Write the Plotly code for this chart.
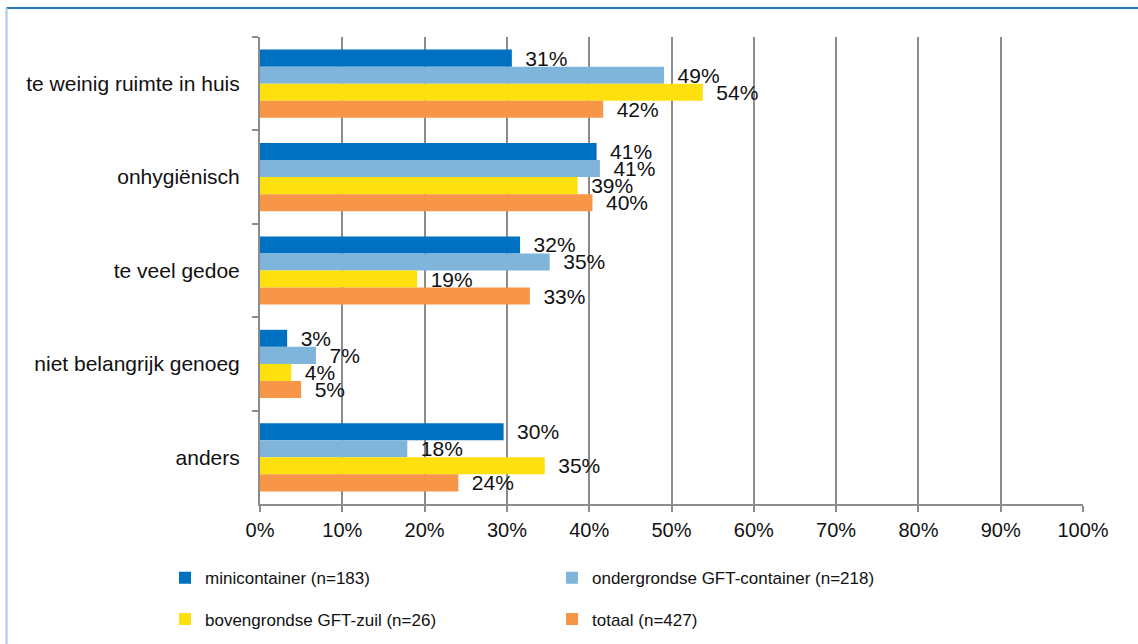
import plotly.graph_objects as go

categories = ["te weinig ruimte in huis", "onhygiënisch", "te veel gedoe",
              "niet belangrijk genoeg", "anders"]
series_names = ["minicontainer (n=183)", "ondergrondse GFT-container (n=218)",
                "bovengrondse GFT-zuil (n=26)", "totaal (n=427)"]
mini = [30.6, 40.9, 31.6, 3.3, 29.6]
onder = [49.1, 41.3, 35.2, 6.8, 17.9]
boven = [53.8, 38.6, 19.1, 3.8, 34.6]
totaal = [41.7, 40.4, 32.8, 5.0, 24.1]
x_ticks = [0, 10, 20, 30, 40, 50, 60, 70, 80, 90, 100]
x_tick_labels = [f"{v}%" for v in x_ticks]

colors = ["#0070C0", "#7FB5DB", "#FFE00F", "#F79646"]
values = [mini, onder, boven, totaal]
legends = ["legend", "legend", "legend2", "legend2"]

FONT = "Arial, 'Liberation Sans', sans-serif"
PAD = "\u2002"

fig = go.Figure()
for name, vals, col, lg in zip(series_names, values, colors, legends):
    fig.add_trace(go.Bar(
        y=categories, x=[v / 100 for v in vals], name=name, orientation="h",
        marker=dict(color=col, line=dict(width=0)),
        text=[f"{PAD}{round(v):d}%" for v in vals],
        textposition="outside", constraintext="none", cliponaxis=False,
        textfont=dict(family=FONT, size=21, color="#111111"),
        legend=lg, hoverinfo="skip",
    ))

fig.update_layout(
    width=1138, height=644,
    margin=dict(l=260, r=55, t=37, b=140),
    paper_bgcolor="white", plot_bgcolor="white",
    barmode="group", bargap=0.27, bargroupgap=0,
    font=dict(family=FONT, size=20, color="#111111"),
    xaxis=dict(range=[0, 1], tickvals=[v / 100 for v in x_ticks],
               ticktext=x_tick_labels, showgrid=True, gridcolor="#8C8C8C",
               gridwidth=2, showline=True, linecolor="#8C8C8C", linewidth=2,
               ticks="outside", ticklen=6, tickcolor="#8C8C8C", tickwidth=2,
               zeroline=False, ticklabelstandoff=1,
               tickfont=dict(family=FONT, size=20, color="#111111")),
    yaxis=dict(autorange="reversed", showgrid=False, showline=True,
               linecolor="#8C8C8C", linewidth=2, ticks="outside",
               tickson="boundaries", ticklen=6, tickcolor="#8C8C8C",
               tickwidth=2, ticklabelstandoff=14,
               tickfont=dict(family=FONT, size=21, color="#111111")),
    legend=dict(orientation="h", xref="container", yref="container",
                x=0.145, y=0.130, xanchor="left", yanchor="top",
                entrywidth=342, font=dict(family=FONT, size=17, color="#111111"),
                bgcolor="rgba(0,0,0,0)", traceorder="normal"),
    legend2=dict(orientation="h", xref="container", yref="container",
                 x=0.145, y=0.066, xanchor="left", yanchor="top",
                 entrywidth=342, font=dict(family=FONT, size=17, color="#111111"),
                 bgcolor="rgba(0,0,0,0)", traceorder="normal"),
    shapes=[
        dict(type="line", xref="paper", yref="paper", x0=-0.308, x1=1.1,
             y0=1.062, y1=1.062, line=dict(color="#2A78B8", width=2)),
        dict(type="line", xref="paper", yref="paper", x0=-0.308, x1=-0.308,
             y0=1.062, y1=-0.32, line=dict(color="#A9C6EC", width=2)),
    ],
)

fig.write_html("out.html", config={"displayModeBar": False},
               post_script="document.body.style.margin='0px';")
